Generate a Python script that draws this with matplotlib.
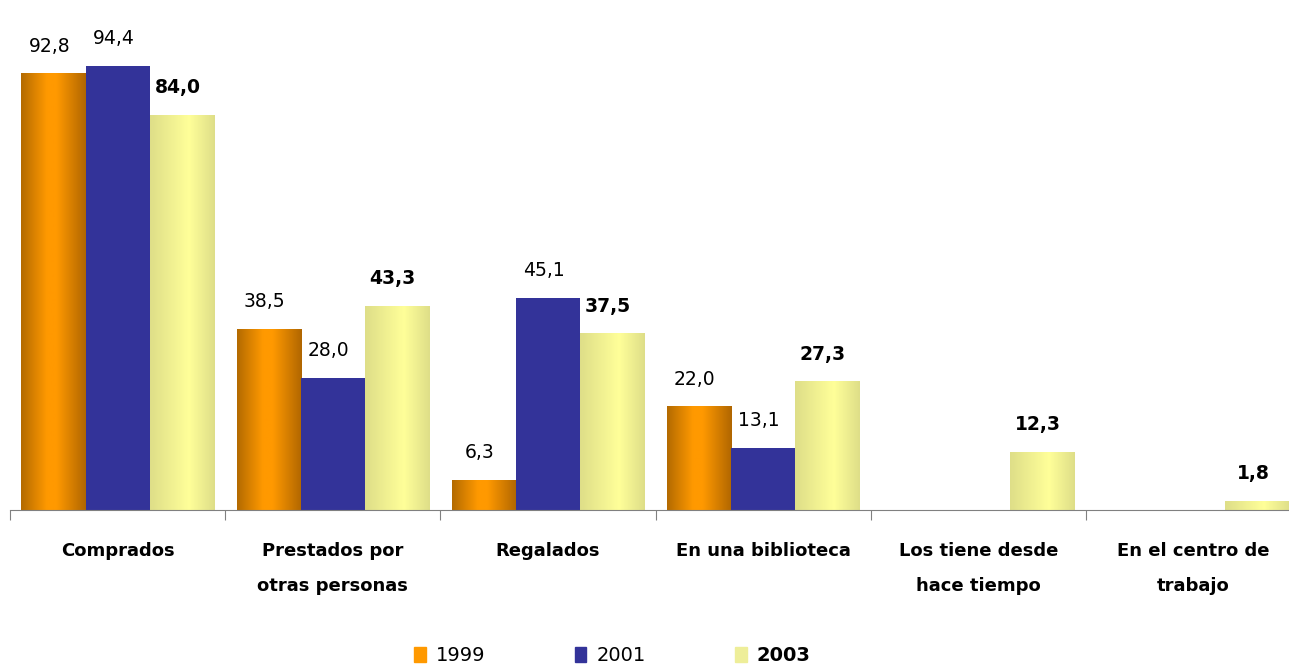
import numpy as np
import matplotlib
matplotlib.use('Agg')
import matplotlib.pyplot as plt
import matplotlib.patches as mpatches
from matplotlib.colors import LinearSegmentedColormap

plt.rcParams['font.family'] = ['DejaVu Sans']

categories = ['Comprados', 'Prestados por\notras personas', 'Regalados',
              'En una biblioteca', 'Los tiene desde\nhace tiempo', 'En el centro de\ntrabajo']
years = ['1999', '2001', '2003']
v1999 = [92.8, 38.5, 6.3, 22.0, None, None]
v2001 = [94.4, 28.0, 45.1, 13.1, None, None]
v2003 = [84.0, 43.3, 37.5, 27.3, 12.3, 1.8]

# gradient maps (left edge -> centre -> right edge)
cm_orange = LinearSegmentedColormap.from_list('o', [(0, '#b36a00'), (0.4, '#ff9900'), (0.55, '#ff9900'), (1, '#b06600')])
cm_yellow = LinearSegmentedColormap.from_list('y', [(0, '#dede88'), (0.6, '#ffff99'), (1, '#dede88')])
BLUE = '#333399'

fig = plt.figure(figsize=(12.89, 6.66), dpi=100)
ax = fig.add_axes([10/1289, (666-510)/666, 1291/1289, 470/666])

w = 0.298
x = np.arange(len(categories))
series = [(v1999, -w, cm_orange), (v2001, 0, BLUE), (v2003, w, cm_yellow)]
grad = np.linspace(0, 1, 256).reshape(1, -1)

for k, (vals, off, col) in enumerate(series):
    for i, v in enumerate(vals):
        if v is None:
            continue
        x0 = x[i] + off - w / 2
        if isinstance(col, str):
            ax.bar(x[i] + off, v, w, color=col, zorder=2)
        else:
            ax.imshow(grad, cmap=col, extent=[x0, x0 + w, 0, v], aspect='auto', zorder=2)
        ax.annotate(f'{v:.1f}'.replace('.', ','), (x[i] + off, v), xytext=(-3, 13),
                    textcoords='offset points', ha='center', va='bottom', fontsize=13.5,
                    fontweight='bold' if k == 2 else 'normal', color='black')

ax.set_xlim(-0.5, 5.5)
ax.set_ylim(0, 100)

for s in ['top', 'right', 'left']:
    ax.spines[s].set_visible(False)
ax.spines['bottom'].set_color('#808080')
ax.set_yticks([])
ax.set_xticks(np.arange(-0.5, 6, 1))
ax.set_xticklabels([])
ax.tick_params(axis='x', which='major', length=7, color='#808080', direction='out')
ax.set_xticks(x, minor=True)
ax.set_xticklabels(categories, minor=True, fontsize=13, fontweight='bold', linespacing=2.25)
ax.tick_params(axis='x', which='minor', length=0, pad=23)

handles = [mpatches.Patch(color='#ff9900', label='1999'),
           mpatches.Patch(color=BLUE, label='2001'),
           mpatches.Patch(color='#eeee99', label='2003')]
leg = fig.legend(handles=handles, loc='lower center', ncol=3, frameon=False,
                 bbox_to_anchor=(0.475, -0.025), fontsize=14, handlelength=0.6,
                 handleheight=0.8, handletextpad=0.5, columnspacing=4.6)
leg.get_texts()[2].set_fontweight('bold')

fig.savefig('out.png', dpi=100, facecolor='white')
